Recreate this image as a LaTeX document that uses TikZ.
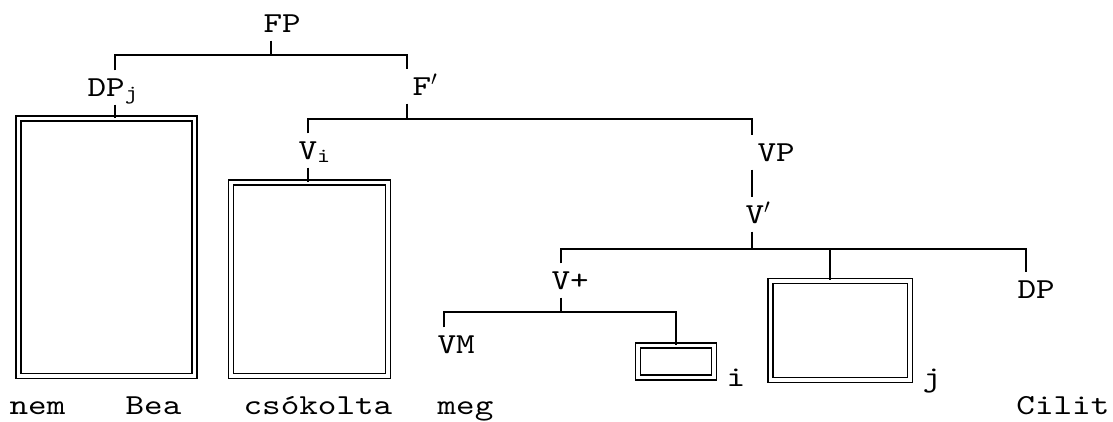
\documentclass[tikz,border=0pt]{standalone}
\usepackage{fontspec}
\setmonofont{lmmono10-regular.otf}[FakeStretch=1.22]
\tikzset{
  tree/.style = {
    font=\ttfamily\fontsize{29}{31}\selectfont,
    line width=1.3pt,
  },
  cat/.style = {
    anchor=base west, inner xsep=0pt, inner ysep=8pt,
    text height=17pt, text depth=0pt,
  },
  word/.style = {anchor=base west, inner sep=0pt},
  hole/.style = {
    draw, double, double distance=3.6pt, line width=1.3pt, inner sep=0pt,
  },
}

\begin{document}
\begin{tikzpicture}[tree, x=1pt, y=-1pt]
\useasboundingbox (0,0) rectangle (1113,421);

\node[cat] (fp)    at (263,32)  {FP};
\node[cat] (dpj)   at (87,96)   {DP\textsubscript{j}};
\node[cat] (fbar)  at (412,95)  {F$'$};
\node[cat] (vi)    at (298,159) {V\textsubscript{i}};
\node[cat] (vp)    at (757,161) {VP};
\node[cat] (vbar)  at (745,223) {V$'$};
\node[cat] (vplus) at (551,289) {V+};
\node[cat] (dp)    at (1017,298) {DP};
\node[cat] (vm)    at (437,353) {VM};
\node[word] (ti)   at (726,386) {i};
\node[word] (tj)   at (922,386) {j};

\node[hole, minimum width=176pt, minimum height=257.5pt]  (boxa) at (106.5,247.25) {};
\node[hole, minimum width=157pt, minimum height=193.5pt]  (boxb) at (309.5,279.25) {};
\node[hole, minimum width=139.5pt, minimum height=99pt]   (boxj) at (840.25,330.5) {};
\node[hole, minimum width=76pt, minimum height=32pt]      (boxi) at (676,361.5) {};

\node[word] (nem)  at (9,414)    {nem};
\node[word] (bea)  at (125,414)  {Bea};
\node[word] (csok) at (243,414)  {csókolta};
\node[word] (meg)  at (437,414)  {meg};
\node[word, anchor=base east] (cil) at (1110,414) {Cilit};

% branch points and stems
\coordinate (bFP) at (271,55);
\coordinate (bF)  at (407,119);
\coordinate (bV)  at (752,249);
\coordinate (bVp) at (561,312);
\coordinate (sDPj) at (115,0);
\coordinate (sVi)  at (308,0);
\coordinate (sDP)  at (1026,0);
\coordinate (sVM)  at (444,0);
\coordinate (sj)   at (830,0);

\draw (fp.south -| bFP) -- (bFP);
\draw (dpj.north -| sDPj) |- (bFP) -| (fbar.north -| bF);
\draw (dpj.south -| sDPj) -- (boxa.north -| sDPj);
\draw (fbar.south -| bF) -- (bF);
\draw (vi.north -| sVi) |- (bF) -| (vp.north -| bV);
\draw (vi.south -| sVi) -- (boxb.north -| sVi);
\draw (vp.south -| bV) -- (vbar.north -| bV);
\draw (vbar.south -| bV) -- (bV);
\draw (vplus.north -| bVp) |- (bV) -| (dp.north -| sDP);
\draw (bV -| sj) -- (boxj.north -| sj);
\draw (vplus.south -| bVp) -- (bVp);
\draw (vm.north -| sVM) |- (bVp) -| (boxi.north);

\end{tikzpicture}
\end{document}
